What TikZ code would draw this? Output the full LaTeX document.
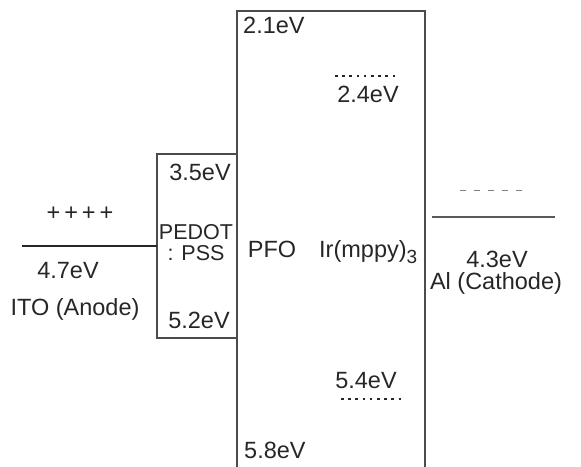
\documentclass[tikz,border=0pt]{standalone}
\usepackage{fontspec}
\setmainfont{Liberation Sans}
\begin{document}
\begin{tikzpicture}[x=1pt,y=-1pt,
  lbl/.style={inner sep=0pt,text=black!85,font=\fontsize{23.5}{26}\selectfont},
  edge/.style={draw=black!70,line width=1.6pt},
  dotline/.style={draw=black!85,line width=2.6pt,dash pattern=on 2.6pt off 4.6pt},
  dashline/.style={draw=black!50,line width=1pt,dash pattern=on 6pt off 8pt}]
\useasboundingbox (0,0) rectangle (581,466);
\begin{scope}
\clip (0,0) rectangle (581,466);
% PFO box
\draw[edge] (237,470) -- (237,11) -- (425,11) -- (425,470);
\end{scope}
% PEDOT box
\draw[edge] (237,154) -- (157,154) -- (157,338) -- (237,338);
% ITO level
\coordinate (itoL) at (22,246);
\coordinate (itoR) at (157,246);
\draw[edge,draw=black!85] (itoL) -- (itoR);
% Al level
\coordinate (alL) at (432,217);
\coordinate (alR) at (555,217);
\draw[edge,draw=black!65,line width=1.3pt] (alL) -- (alR);
\coordinate (dsL) at (460,190);
\coordinate (dsR) at (530,190);
\draw[dashline] (dsL) -- (dsR);
% dotted Ir levels
\coordinate (d1L) at (335,76);
\coordinate (d1R) at (396,76);
\draw[dotline] (d1L) -- (d1R);
\coordinate (d2L) at (341,399);
\coordinate (d2R) at (402,399);
\draw[dotline] (d2L) -- (d2R);
% labels
\node[lbl] (plus) at (80,214) {+\,+\,+\,+};
\node[lbl] (ito47) at (68,271) {4.7eV};
\node[lbl] (ito) at (75,309) {ITO (Anode)};
\node[lbl] (p35) at (200,172) {3.5eV};
\node[lbl,align=center,font=\fontsize{21.5}{24}\selectfont] (pedot) at (196,243) {PEDOT\\[-3pt]: PSS};
\node[lbl] (p52) at (199,320) {5.2eV};
\node[lbl,anchor=west] (f21) at (243,25) {2.1eV};
\node[lbl] (i24) at (368,94) {2.4eV};
\node[lbl] (pfo) at (272,249) {PFO};
\node[lbl,anchor=base west] (ir) at (319,257) {Ir(mppy)\raisebox{-6pt}{\fontsize{19}{19}\selectfont 3}};
\node[lbl] (i54) at (366,381) {5.4eV};
\node[lbl,anchor=west] (f58) at (244,450) {5.8eV};
\node[lbl] (al43) at (497,259) {4.3eV};
\node[lbl] (al) at (496,283) {Al (Cathode)};
\end{tikzpicture}
\end{document}
